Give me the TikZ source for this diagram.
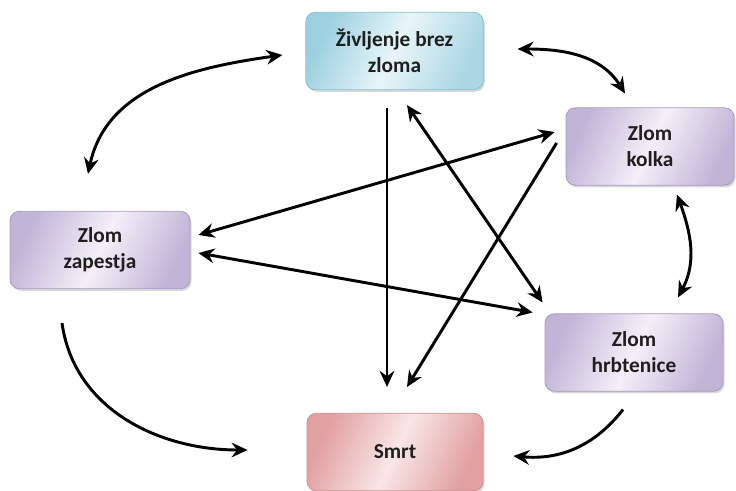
\documentclass[tikz,border=0pt]{standalone}
\usepackage{fontspec}
\setmainfont{Carlito}
\usetikzlibrary{calc,arrows.meta,shadows}

\definecolor{bluedark}{HTML}{9CD0DF}
\definecolor{bluelight}{HTML}{E8F5F9}
\definecolor{blueedge}{HTML}{86BFCF}
\definecolor{lilacdark}{HTML}{C2B4D7}
\definecolor{lilaclight}{HTML}{F3F0F8}
\definecolor{lilacedge}{HTML}{A999C2}
\definecolor{rosedark}{HTML}{E1A0A2}
\definecolor{roselight}{HTML}{F9E6E6}
\definecolor{roseedge}{HTML}{CF8E90}

\begin{document}
\begin{tikzpicture}[x=0.75pt,y=-0.75pt,
    box/.style={rounded corners=7pt,draw,line width=0.6pt,minimum height=58pt,
        align=center,text=black!88,
        font=\fontsize{16}{19.5}\selectfont\bfseries,
        drop shadow={opacity=0.3,shadow xshift=1.2pt,shadow yshift=-1.6pt}},
    bluebox/.style={box,draw=blueedge,left color=bluedark,right color=bluedark!85,
        middle color=bluelight,shading angle=65},
    lilacbox/.style={box,draw=lilacedge,left color=lilacdark,right color=lilacdark,
        middle color=lilaclight,shading angle=65},
    rosebox/.style={box,draw=roseedge,left color=rosedark,right color=rosedark,
        middle color=roselight,shading angle=65},
    link/.style={line width=2.2pt,-{Stealth[length=12pt,width=11pt,inset=4pt]}},
    twoway/.style={line width=2.2pt,
        {Stealth[length=12pt,width=11pt,inset=4pt]}-{Stealth[length=12pt,width=11pt,inset=4pt]}}]

\useasboundingbox (0,0) rectangle (736,491);

% Life without fracture (top box).
\node[bluebox,minimum width=133pt] (zivl) at (394.5,51) {Življenje brez\\zloma};

% Death (bottom box).
\node[rosebox,minimum width=132pt] (smrt) at (395,452) {Smrt};

% Loop for the fracture boxes.
\foreach \nm/\pos/\w/\txt in {kolk/{650,146.5}/126pt/{Zlom\\kolka},
                              zap/{100,250}/135pt/{Zlom\\zapestja},
                              hrb/{634,352.5}/133.5pt/{Zlom\\hrbtenice}} {

    % Draw each box.
    \node[lilacbox,minimum width=\w] (\nm) at (\pos) {\txt};
}

% Straight links through the middle.
\draw[link]   ($(zivl.south)+(-7.5,18)$) -- ($(smrt.north)+(-8,-26)$);
\draw[twoway] ($(zivl.south)+(12.5,15)$) -- ($(hrb.north west)+(-2,-11)$);
\draw[twoway] ($(zap.east)+(8,-15)$)     -- ($(kolk.west)+(-11,-14.5)$);
\draw[twoway] ($(zap.east)+(8,3)$)       -- ($(hrb.north west)+(-12,-1)$);
\draw[link]   ($(kolk.west)+(-9,-3.5)$)  -- ($(smrt.north)+(12,-26)$);

% Curved links round the outside.
\draw[twoway] ($(zivl.west)+(-23,4)$)  to[out=188,in=78]  ($(zap.north)+(-12,-37)$);
\draw[twoway] ($(zivl.east)+(34,-2)$)  to[out=0,in=122]   ($(kolk.north)+(-25,-14)$);
\draw[twoway] ($(kolk.south)+(27,9)$)  to[out=-70,in=62]  ($(hrb.north)+(44,-16)$);
\draw[link]   ($(zap.south)+(-38,34)$) to[out=-82,in=180] ($(smrt.west)+(-59,-2)$);
\draw[link]   ($(hrb.south)+(-11,18)$) to[out=232,in=-5]  ($(smrt.east)+(30,4)$);
\end{tikzpicture}
\end{document}
